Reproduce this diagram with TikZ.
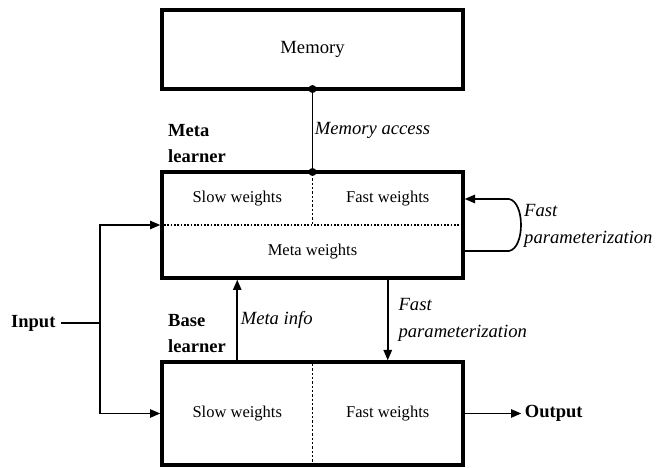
\documentclass[tikz,border=0pt]{standalone}
\usepackage{fontspec}
\setmainfont{Liberation Serif}
\usetikzlibrary{arrows.meta,positioning,calc}

\begin{document}
\begin{tikzpicture}[
  box/.style={draw, line width=0.12cm, minimum width=9.03cm, inner sep=0pt, outer sep=0pt},
  wt/.style={font=\fontsize{14.1}{17}\selectfont},
  lbl/.style={font=\fontsize{15.8}{22.5}\selectfont\bfseries, align=left, inner sep=0pt},
  note/.style={font=\fontsize{15.9}{23}\selectfont\itshape, align=left, inner sep=0pt},
  arr/.style={-{Triangle[length=0.31cm,width=0.25cm]}, line width=0.05cm, shorten >=0.05cm},
  wire/.style={line width=0.05cm},
  sep/.style={line width=0.05cm, dash pattern=on 0.05cm off 0.05cm}
]
\useasboundingbox (0,0) rectangle (19.71,14.04);

% boxes
\node[box, minimum height=2.37cm, font=\fontsize{15.9}{19}\selectfont] (mem) at (9.375,12.555) {Memory};
\node[box, minimum height=3.18cm] (meta) at (9.375,7.29) {};
\node[box, minimum height=3.09cm] (base) at (9.375,1.635) {};

% inside the boxes
\draw[sep, shorten <=0.06cm, shorten >=0.06cm] (meta.west) -- (meta.east);
\draw[sep, shorten <=0.06cm, dash pattern=on 0.07cm off 0.06cm] (meta.north) -- (meta.center);
\draw[sep, shorten <=0.06cm, shorten >=0.06cm, dash pattern=on 0.07cm off 0.06cm] (base.north) -- (base.south);
\node[wt] (mslow) at ($(meta.north west)!.5!(meta.center)$) {Slow weights};
\node[wt] (mfast) at ($(meta.north east)!.5!(meta.center)$) {Fast weights};
\node[wt] (mmeta) at ($(meta.south)!.5!(meta.center)$) {Meta weights};
\node[wt] (bslow) at ($(base.west)!.5!(base.center)$) {Slow weights};
\node[wt] (bfast) at ($(base.east)!.5!(base.center)$) {Fast weights};

% labels
\node[lbl, anchor=south west] (mlab) at ($(meta.north west)+(0.18,0.27)$) {Meta\\learner};
\node[lbl, anchor=south west] (blab) at ($(base.north west)+(0.18,0.27)$) {Base\\learner};
\node[lbl, inner sep=0.17cm] (in) at (1.0,4.35) {Input};
\node[lbl, inner sep=0.05cm, right=1.8cm of base] (out) {Output};
\node[note, anchor=west] (loopl) at (15.72,7.26) {Fast\\parameterization};

% memory access
\draw[line width=0.04cm] (mem.south) -- node[note, right=0.05cm] {Memory access} (meta.north);
\fill (mem.south) circle (0.12);
\fill (meta.north) circle (0.12);

% input
\coordinate (split) at (3.0,4.35);
\draw[wire] (in) -- (split);
\draw[arr] (split) |- (meta.west);
\draw[arr] (split) |- (base.west);

% between learners
\coordinate (bq) at ($(base.north west)!.25!(base.north east)$);
\draw[arr] (bq) -- node[note, right=0.08cm] {Meta info} (bq |- meta.south);
\coordinate (mq) at ($(meta.south west)!.75!(meta.south east)$);
\draw[arr] (mq) -- node[note, right=0.3cm] {Fast\\parameterization} (mq |- base.north);

% loop on meta learner
\coordinate (lpb) at ($(meta.east)+(0,-0.78)$);
\coordinate (lpt) at ($(meta.east)+(0,0.78)$);
\coordinate (lr1) at (15.27,6.51);
\coordinate (lr2) at (15.27,8.07);
\draw[arr] (lpb) -- (lr1) .. controls (15.75,6.6) and (15.75,7.98) .. (lr2) -- (lpt);

% output
\draw[arr] (base) -- (out);
\end{tikzpicture}
\end{document}
